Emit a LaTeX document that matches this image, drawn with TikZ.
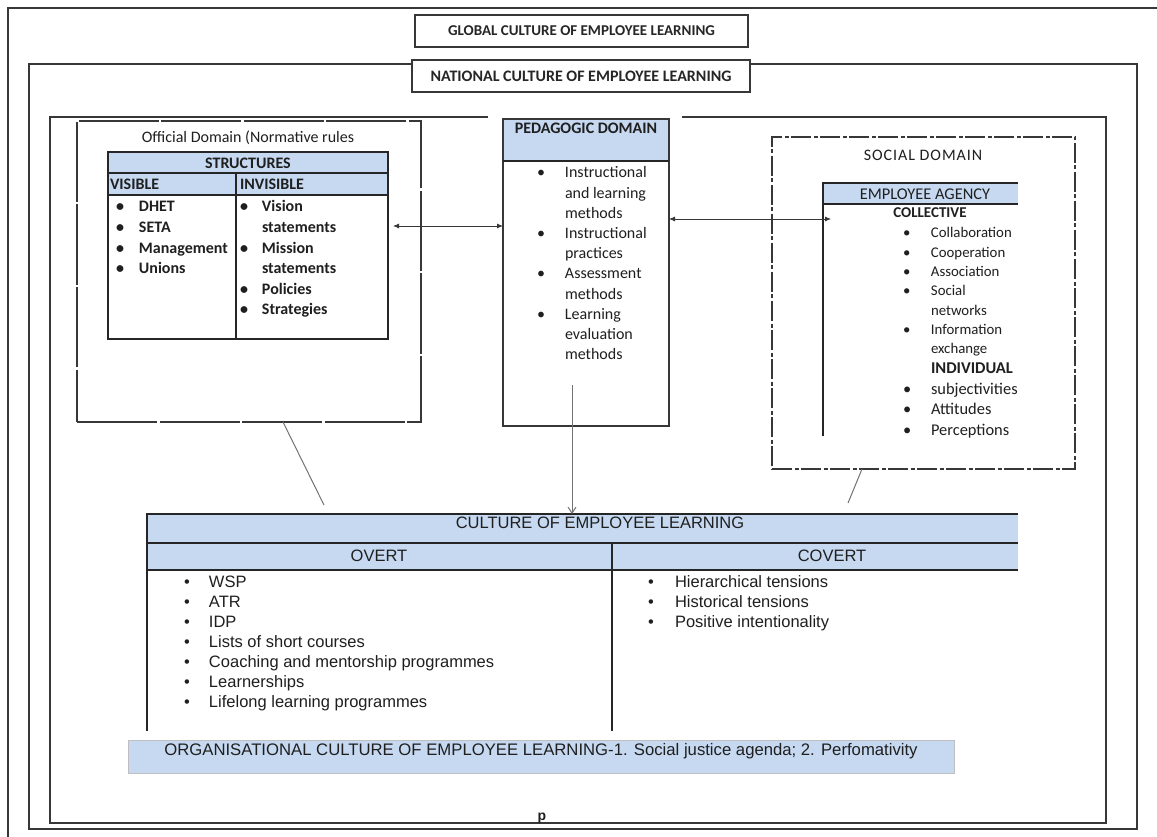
\documentclass[tikz,border=0pt]{standalone}
\usepackage{fontspec}
\setmainfont{Carlito}
\newfontfamily\arialf{Liberation Sans}
\usetikzlibrary{arrows.meta,shadows}
\definecolor{hdr}{RGB}{198,217,241}
\definecolor{ln}{RGB}{55,55,55}
\newcommand\fs[2]{\fontsize{#1}{#2}\selectfont}
\newcommand\bul[1]{\makebox[#1][l]{\textbullet}}
\begin{document}
\begin{tikzpicture}[x=1pt,y=-1pt,
  frame/.style={draw=ln, line width=1.6pt},
  box/.style={draw=ln, line width=1.4pt, inner sep=0pt, outer sep=0pt, anchor=north west},
  tbl/.style={draw=black!85, line width=1.8pt},
  txt/.style={inner sep=0pt, outer sep=0pt, text=black!88},
  lst/.style={txt, anchor=base west},
  arr/.style={draw=ln, line width=0.8pt, {Latex[length=6pt,width=5pt]}-{Latex[length=6pt,width=5pt]}},
  link/.style={draw=black!55, line width=1pt},
  shd/.style={drop shadow={shadow xshift=1.3pt, shadow yshift=-1.3pt, fill=black!70, opacity=1}},
]
\useasboundingbox (0,0) rectangle (1157,837);
\clip (0,0) rectangle (1157,837);
\fill[white] (0,0) rectangle (1157,837);

% frames
\node[box, frame, minimum width=1170pt, minimum height=840pt] (globalframe) at (8,8) {};
\node[box, frame, minimum width=1108pt, minimum height=765pt] (nationalframe) at (29,64) {};
\draw[frame] (488,117) -- (50,117) -- (50,823) -- (1106,823) -- (1106,117) -- (682,117);

% title boxes
\node[box, fill=white, shd, line width=1.2pt, minimum width=333pt, minimum height=32pt,
      font=\bfseries\fs{15}{18}, text=black!85] (global) at (415,15) {GLOBAL CULTURE OF EMPLOYEE LEARNING};
\node[box, fill=white, shd, line width=1.2pt, minimum width=338pt, minimum height=32pt,
      font=\bfseries\fs{16}{18}, text=black!85] (national) at (412,60) {NATIONAL CULTURE OF EMPLOYEE LEARNING};

% official domain
\node[box, dash pattern=on 80pt off 2.5pt, line width=1.3pt, minimum width=344pt, minimum height=301pt] (official) at (77,121) {};
\node[txt, font=\fs{16}{20}] (offtitle) at (248,138) {Official Domain (Normative rules};
\fill[hdr] (108,152) rectangle (388,195);
\node[box, tbl, minimum width=280pt, minimum height=187pt] (structures) at (108,152) {};
\draw[tbl] (108,173) -- (388,173);
\draw[tbl] (108,195) -- (388,195);
\draw[tbl] (236,173) -- (236,339);
\node[txt, font=\bfseries\fs{16}{20}] (structt) at (248,163) {STRUCTURES};
\node[txt, anchor=west, font=\bfseries\fs{16}{20}] (vist) at (110,184) {VISIBLE};
\node[txt, anchor=west, font=\bfseries\fs{16}{20}] (invist) at (240,184) {INVISIBLE};
\node[lst, font=\bfseries\fs{16}{20.6}] (vislist) at (116,212) {\begin{tabular}[t]{@{}l@{}l@{}}
\bul{23pt}&DHET\\ \bul{23pt}&SETA\\ \bul{23pt}&Management\\ \bul{23pt}&Unions\end{tabular}};
\node[lst, font=\bfseries\fs{16}{20.6}] (invlist) at (240,212) {\begin{tabular}[t]{@{}l@{}l@{}}
\bul{22pt}&Vision\\ &statements\\ \bul{22pt}&Mission\\ &statements\\ \bul{22pt}&Policies\\ \bul{22pt}&Strategies\end{tabular}};

% pedagogic domain
\fill[hdr] (503,119) rectangle (669,161);
\node[box, line width=1.6pt, minimum width=166pt, minimum height=307pt] (pedagogic) at (503,119) {};
\draw[tbl, line width=1.6pt] (503,161) -- (669,161);
\node[txt, font=\bfseries\fs{16}{20}] (pedt) at (586,128) {PEDAGOGIC DOMAIN};
\node[lst, font=\fs{16}{20.2}] (pedlist) at (537,178) {\begin{tabular}[t]{@{}l@{}l@{}}
\bul{28pt}&Instructional\\ &and learning\\ &methods\\ \bul{28pt}&Instructional\\ &practices\\
\bul{28pt}&Assessment\\ &methods\\ \bul{28pt}&Learning\\ &evaluation\\ &methods\end{tabular}};

% social domain
\node[box, dash pattern=on 20pt off 2.5pt on 4pt off 2.5pt, line width=1.3pt, minimum width=303pt, minimum height=332pt] (social) at (772,137) {};
\node[txt, font=\fs{16}{20}\addfontfeature{LetterSpace=6}] (soct) at (923,155) {SOCIAL DOMAIN};
\fill[hdr] (823,183) rectangle (1018,204);
\node[box, draw=none, minimum width=195pt, minimum height=21pt] (agency) at (823,183) {};
\draw[tbl] (1018,183) -- (823,183) -- (823,436);
\draw[tbl] (823,204) -- (1018,204);
\node[txt, font=\fs{16.4}{20}] (agt) at (925,194) {EMPLOYEE AGENCY};
\node[txt, font=\bfseries\fs{15}{18}] (collt) at (930,213) {COLLECTIVE};
\node[lst, font=\fs{14.8}{19.33}] (colllist) at (903,238) {\begin{tabular}[t]{@{}l@{}l@{}}
\bul{28pt}&Collaboration\\ \bul{28pt}&Cooperation\\ \bul{28pt}&Association\\ \bul{28pt}&Social\\ &networks\\
\bul{28pt}&Information\\ &exchange\end{tabular}};
\node[lst, font=\bfseries\fs{16.5}{20}] (indt) at (931,373) {INDIVIDUAL};
\node[lst, font=\fs{16.4}{20.5}] (indlist) at (903,394) {\begin{tabular}[t]{@{}l@{}l@{}}
\bul{28pt}&subjectivities\\ \bul{28pt}&Attitudes\\ \bul{28pt}&Perceptions\end{tabular}};

% connectors between domains
\coordinate (offarr) at (393,226);
\draw[arr] (offarr) -- (pedagogic.west |- offarr);
\coordinate (agarr) at (831,219);
\draw[arr] (pedagogic.east |- agarr) -- (agarr);

% culture of employee learning table
\fill[hdr] (147,514) rectangle (1018,570);
\node[box, draw=none, minimum width=871pt, minimum height=29pt] (culture) at (147,514) {};
\draw[tbl] (1018,514) -- (147,514) -- (147,731);
\draw[tbl] (147,543) -- (1018,543);
\draw[tbl] (147,570) -- (1018,570);
\draw[tbl] (612,543) -- (612,731);
\node[txt, font=\arialf\fs{16.5}{20}] (cult) at (600,523) {CULTURE OF EMPLOYEE LEARNING};
\node[txt, font=\arialf\fs{16.5}{20}] (overt) at (379,556) {OVERT};
\node[txt, font=\arialf\fs{16.5}{20}] (covert) at (832,556) {COVERT};
\node[lst, font=\arialf\fs{16.5}{20}] (overtlist) at (184,587) {\begin{tabular}[t]{@{}l@{}l@{}}
\bul{25pt}&WSP\\ \bul{25pt}&ATR\\ \bul{25pt}&IDP\\ \bul{25pt}&Lists of short courses\\
\bul{25pt}&Coaching and mentorship programmes\\ \bul{25pt}&Learnerships\\ \bul{25pt}&Lifelong learning programmes\end{tabular}};
\node[lst, font=\arialf\fs{16.5}{20}] (covertlist) at (648,587) {\begin{tabular}[t]{@{}l@{}l@{}}
\bul{27pt}&Hierarchical tensions\\ \bul{27pt}&Historical tensions\\ \bul{27pt}&Positive intentionality\end{tabular}};

% links to culture table
\coordinate (pedarr) at (572,385);
\draw[link, -{Straight Barb[length=6pt,width=8pt]}] (pedarr) -- (culture.north -| pedarr);
\coordinate (offfoot) at (324,505);
\draw[link] ([xshift=34pt]official.south) -- (offfoot);
\coordinate (socfoot) at (848,503);
\draw[link] ([xshift=-61.5pt]social.south) -- (socfoot);

% banner
\node[box, fill=hdr, draw=black!25, line width=0.8pt, minimum width=826pt, minimum height=33pt] (banner) at (128,740) {};
\node[txt, font=\arialf\fs{16.7}{20}] (bannert) at (541,751) {ORGANISATIONAL CULTURE OF EMPLOYEE LEARNING-1. Social justice agenda; 2. Perfomativity};
\node[txt, anchor=base, font=\arialf\bfseries\fs{14}{16}] (pmark) at (542,820) {p};
\end{tikzpicture}
\end{document}
